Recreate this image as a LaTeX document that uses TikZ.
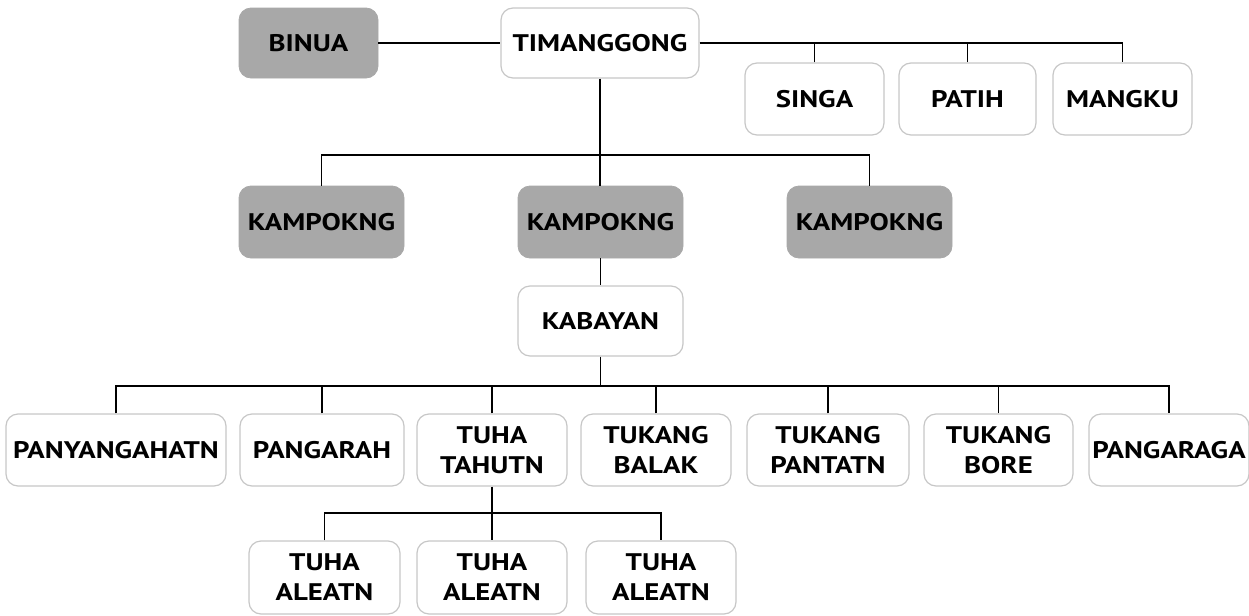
\documentclass[tikz,border=0pt]{standalone}
\usepackage{fontspec}
\setmainfont[FakeStretch=1.2]{PT Sans}
\begin{document}
\begin{tikzpicture}[x=0.5pt,y=-0.5pt,
  box/.style={rectangle, rounded corners=6pt, align=center, inner sep=0pt,
    font=\fontsize{12}{15}\selectfont\bfseries, text=black},
  wbox/.style={box, draw=black!22, line width=0.6pt, fill=white},
  gbox/.style={box, fill=black!34, draw=black!34},
  conn/.style={draw=black, line width=0.95pt}]
\useasboundingbox (0,0) rectangle (1249,616);
% top row
\node[gbox, minimum width=69.5pt, minimum height=35pt] (binua) at (308.5,43) {BINUA};
\node[wbox, minimum width=99pt, minimum height=35pt] (tim) at (600,43) {TIMANGGONG};
\node[wbox, minimum width=69.5pt, minimum height=36pt] (singa) at (814.5,99) {SINGA};
\node[wbox, minimum width=68.5pt, minimum height=36pt] (patih) at (967.5,99) {PATIH};
\node[wbox, minimum width=69.5pt, minimum height=36pt] (mangku) at (1122.5,99) {MANGKU};
% kampokng row
\node[gbox, minimum width=82.5pt, minimum height=36pt] (k1) at (321.5,222) {KAMPOKNG};
\node[gbox, minimum width=82.5pt, minimum height=36pt] (k2) at (600.5,222) {KAMPOKNG};
\node[gbox, minimum width=82.5pt, minimum height=36pt] (k3) at (869.5,222) {KAMPOKNG};
\node[wbox, minimum width=82.5pt, minimum height=35pt] (kab) at (600.5,321) {KABAYAN};
% bottom row
\node[wbox, minimum width=110pt, minimum height=36pt] (pany) at (116,450) {PANYANGAHATN};
\node[wbox, minimum width=82pt, minimum height=36pt] (pang) at (322,450) {PANGARAH};
\node[wbox, minimum width=75pt, minimum height=36pt] (tahutn) at (492,450) {TUHA\\TAHUTN};
\node[wbox, minimum width=75pt, minimum height=36pt] (balak) at (656,450) {TUKANG\\BALAK};
\node[wbox, minimum width=81pt, minimum height=36pt] (pantatn) at (828,450) {TUKANG\\PANTATN};
\node[wbox, minimum width=74.5pt, minimum height=36pt] (bore) at (998.5,450) {TUKANG\\BORE};
\node[wbox, minimum width=80pt, minimum height=36pt] (pgrg) at (1169,450) {PANGARAGA};
% aleatn row
\node[wbox, minimum width=75.5pt, minimum height=36.5pt] (a1) at (324.5,577.5) {TUHA\\ALEATN};
\node[wbox, minimum width=75pt, minimum height=36.5pt] (a2) at (492,577.5) {TUHA\\ALEATN};
\node[wbox, minimum width=75pt, minimum height=36.5pt] (a3) at (661,577.5) {TUHA\\ALEATN};
% junctions
\coordinate (j1) at (600,155);
\coordinate (j3) at (600.5,386);
\coordinate (j4) at (492,513);
% connectors
\draw[conn] (binua.east) -- (tim.west);
\draw[conn] (tim.east) -| (mangku.north);
\draw[conn] (singa.north) -- (singa.north |- tim.east);
\draw[conn] (patih.north) -- (patih.north |- tim.east);
\draw[conn] (tim.south) -- (j1);
\draw[conn] (k1.north) |- (j1) -| (k3.north);
\draw[conn] (j1) -- (k2.north -| j1);
\draw[conn] (k2.south) -- (kab.north);
\draw[conn] (kab.south) -- (j3);
\draw[conn] (pany.north) |- (j3) -| (pgrg.north);
\draw[conn] (pang.north) -- (pang.north |- j3);
\draw[conn] (tahutn.north) -- (tahutn.north |- j3);
\draw[conn] (balak.north) -- (balak.north |- j3);
\draw[conn] (pantatn.north) -- (pantatn.north |- j3);
\draw[conn] (bore.north) -- (bore.north |- j3);
\draw[conn] (tahutn.south) -- (j4);
\draw[conn] (a1.north) |- (j4) -| (a3.north);
\draw[conn] (j4) -- (a2.north);
\end{tikzpicture}
\end{document}
